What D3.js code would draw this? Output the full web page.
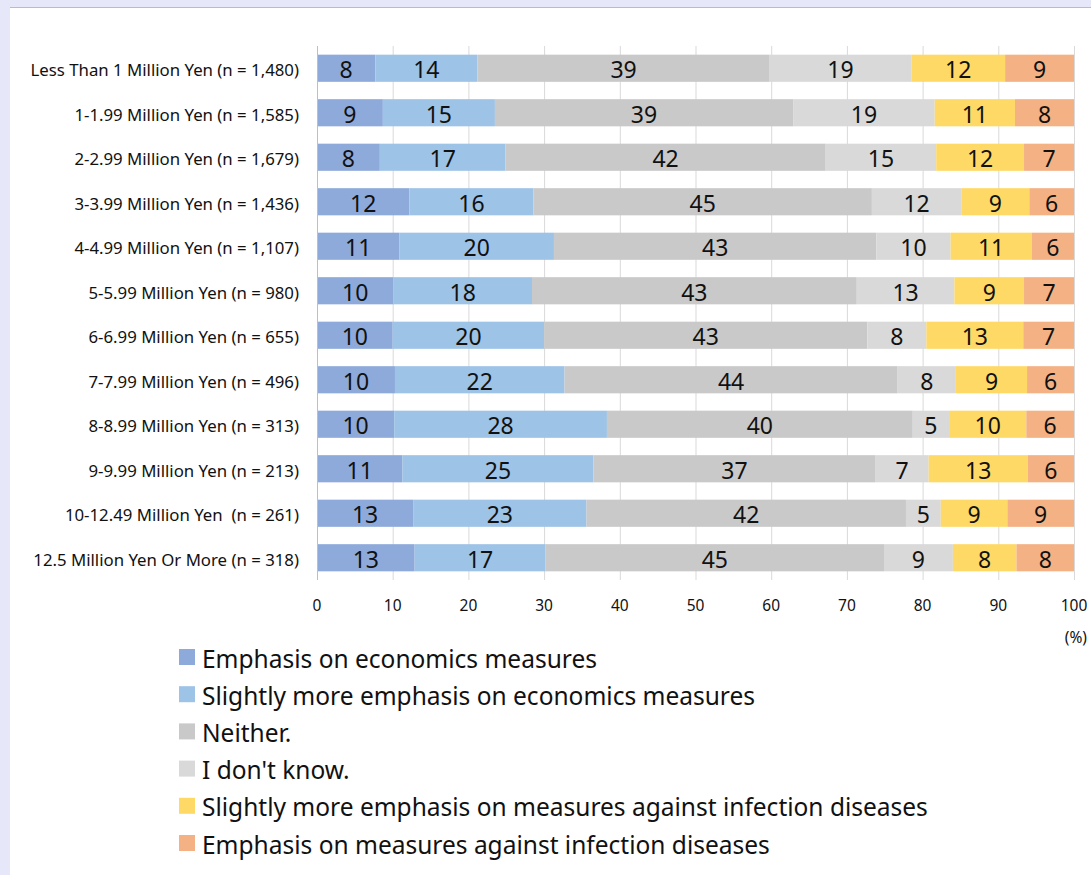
<!DOCTYPE html>
<html>
<head>
<meta charset="utf-8">
<script src="https://cdn.jsdelivr.net/npm/d3@7"></script>
<style>
  html, body { margin: 0; padding: 0; background: #e6e8f9; }
  svg { display: block; }
  text { font-family: "Noto Sans", "DejaVu Sans", sans-serif; fill: #111; white-space: pre; }
</style>
</head>
<body>
<svg id="chart" width="1091" height="875"></svg>
<script>
// Household income groups (top to bottom)
const categories = [
  "Less Than 1 Million Yen (n = 1,480)",
  "1-1.99 Million Yen (n = 1,585)",
  "2-2.99 Million Yen (n = 1,679)",
  "3-3.99 Million Yen (n = 1,436)",
  "4-4.99 Million Yen (n = 1,107)",
  "5-5.99 Million Yen (n = 980)",
  "6-6.99 Million Yen (n = 655)",
  "7-7.99 Million Yen (n = 496)",
  "8-8.99 Million Yen (n = 313)",
  "9-9.99 Million Yen (n = 213)",
  "10-12.49 Million Yen  (n = 261)",
  "12.5 Million Yen Or More (n = 318)"
];

const seriesNames = [
  "Emphasis on economics measures",
  "Slightly more emphasis on economics measures",
  "Neither.",
  "I don't know.",
  "Slightly more emphasis on measures against infection diseases",
  "Emphasis on measures against infection diseases"
];

const seriesColors = ["#8eaadb", "#9dc3e6", "#c9c9c9", "#d9d9d9", "#ffd966", "#f4b183"];

// Share of respondents (%), one array per answer, one entry per income group
const economics         = [7.7, 8.7, 8.3, 12.2, 10.9, 10.1, 10.0, 10.3, 10.2, 11.3, 12.7, 12.9];
const slightlyEconomics = [13.5, 14.8, 16.6, 16.4, 20.4, 18.3, 20.0, 22.4, 28.1, 25.2, 22.9, 17.3];
const neither           = [38.6, 39.4, 42.3, 44.7, 42.6, 42.9, 42.7, 44.0, 40.4, 37.3, 42.2, 44.7];
const dontKnow          = [18.7, 18.7, 14.6, 11.8, 9.8, 12.9, 7.8, 7.7, 4.8, 7.0, 4.6, 9.1];
const slightlyInfection = [12.4, 10.6, 11.6, 9.0, 10.7, 9.2, 12.8, 9.4, 10.2, 13.1, 8.8, 8.4];
const infection         = [9.1, 7.8, 6.6, 5.9, 5.6, 6.6, 6.7, 6.2, 6.3, 6.1, 8.8, 7.6];

const xTicks = [0, 10, 20, 30, 40, 50, 60, 70, 80, 90, 100];

const seriesValues = [economics, slightlyEconomics, neither, dontKnow, slightlyInfection, infection];
const keys = seriesNames.map((_, i) => "s" + i);
const rows = categories.map((c, r) => {
  const o = { category: c };
  keys.forEach((k, i) => { o[k] = seriesValues[i][r]; });
  return o;
});

const svg = d3.select("#chart");

// white panel with a thin rule along its top edge
svg.append("rect").attr("x", 10).attr("y", 8).attr("width", 1081).attr("height", 867).attr("fill", "#fff");
svg.append("line").attr("x1", 10).attr("x2", 1091).attr("y1", 7.5).attr("y2", 7.5)
  .attr("stroke", "#b9bbcc").attr("stroke-width", 1);

const x = d3.scaleLinear().domain([0, 100]).range([317, 1074]);
const y = d3.scaleBand().domain(categories).range([46, 580]).paddingInner(0.39).paddingOuter(0.195);
const color = d3.scaleOrdinal().domain(keys).range(seriesColors);

// vertical gridlines
svg.append("g").selectAll("line").data(xTicks.slice(1)).join("line")
  .attr("x1", d => x(d) + 0.5).attr("x2", d => x(d) + 0.5)
  .attr("y1", 46).attr("y2", 580)
  .attr("stroke", "#d9d9d9").attr("stroke-width", 1);

// stacked bars
const stacked = d3.stack().keys(keys)(rows);
const layers = svg.append("g").selectAll("g").data(stacked).join("g")
  .attr("fill", d => color(d.key));

layers.selectAll("rect").data(d => d).join("rect")
  .attr("x", d => x(d[0]))
  .attr("y", d => y(d.data.category))
  .attr("width", d => x(d[1]) - x(d[0]))
  .attr("height", y.bandwidth());

// value labels, centred in each segment
const fmt = d3.format(".0f");
svg.append("g").selectAll("g").data(stacked).join("g")
  .selectAll("text").data(d => d).join("text")
  .attr("x", d => (x(d[0]) + x(d[1])) / 2)
  .attr("y", d => y(d.data.category) + y.bandwidth() / 2 + 1)
  .attr("text-anchor", "middle")
  .attr("dominant-baseline", "central")
  .style("font-size", "23px")
  .text(d => fmt(d[1] - d[0]));

// category axis line
svg.append("line").attr("x1", x(0) + 0.5).attr("x2", x(0) + 0.5).attr("y1", 46).attr("y2", 580)
  .attr("stroke", "#bfbfbf").attr("stroke-width", 1);

// category labels
svg.append("g").selectAll("text").data(categories).join("text")
  .attr("x", 299)
  .attr("y", d => y(d) + y.bandwidth() / 2 + 1.5)
  .attr("text-anchor", "end")
  .attr("dominant-baseline", "central")
  .style("font-size", "16.8px")
  .text(d => d);

// value axis tick labels
svg.append("g").selectAll("text").data(xTicks).join("text")
  .attr("x", d => x(d))
  .attr("y", 605)
  .attr("text-anchor", "middle")
  .attr("dominant-baseline", "central")
  .style("font-size", "15.5px")
  .text(d => d);

svg.append("text").attr("x", 1087).attr("y", 637)
  .attr("text-anchor", "end").attr("dominant-baseline", "central")
  .style("font-size", "15.5px").text("(%)");

// legend
const legend = svg.append("g").selectAll("g").data(seriesNames).join("g")
  .attr("transform", (d, i) => `translate(179, ${657 + i * 37.2})`);
legend.append("rect").attr("x", 0).attr("y", -8).attr("width", 16).attr("height", 16)
  .attr("fill", (d, i) => seriesColors[i]);
legend.append("text").attr("x", 23).attr("y", 1)
  .attr("dominant-baseline", "central")
  .style("font-size", "24.5px")
  .text(d => d);
</script>
</body>
</html>
